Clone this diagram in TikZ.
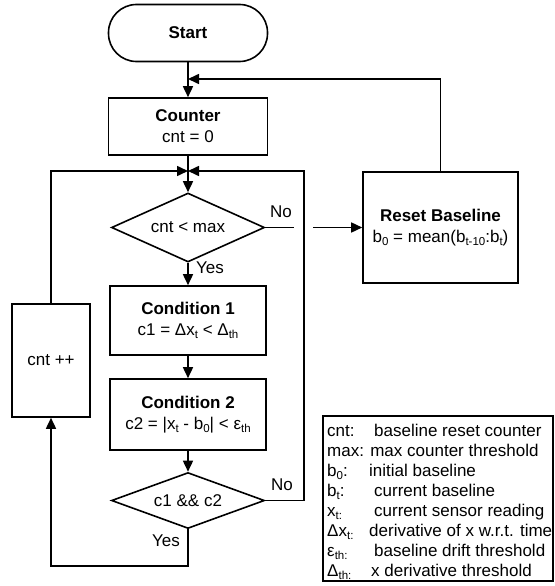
\documentclass[tikz,border=0pt]{standalone}
\usepackage{fontspec}
\setmainfont{Liberation Sans}
\usetikzlibrary{shapes.geometric,arrows.meta}
\newcommand{\lo}[1]{\raisebox{-0.35ex}{\fontsize{11.5}{12}\selectfont #1}}
\tikzset{
  base/.style={draw, line width=1.6pt, font=\fontsize{17}{21}\selectfont, align=center, inner sep=0pt},
  term/.style={base, rounded corners=28pt, minimum width=159pt, minimum height=57pt},
  proc/.style={base, rectangle},
  dec/.style={base, diamond, aspect=2.2},
  conn/.style={line width=1.6pt},
  arr/.style={conn, -{Triangle[length=11pt,width=10pt]}},
  lbl/.style={font=\fontsize{17}{20}\selectfont, inner sep=0pt},
  leg/.style={font=\fontsize{17}{20}\selectfont, inner sep=0pt, anchor=base west},
}
\begin{document}
\begin{tikzpicture}[x=1pt,y=-1pt]
\useasboundingbox (0,0) rectangle (554,586);
\fill[white] (0,0) rectangle (554,586);
% nodes
\node[term] (start) at (188,33) {\textbf{Start}};
\node[proc, minimum width=159pt, minimum height=57pt] (counter) at (188,126.5) {\textbf{Counter}\\cnt = 0};
\node[dec, minimum width=153pt, minimum height=69pt] (d1) at (188,227.5) {cnt {<} max};
\node[proc, minimum width=156pt, minimum height=69pt] (c1) at (188,320.5) {\textbf{Condition 1}\\c1 = Δx\lo{t} < Δ\lo{th}};
\node[proc, minimum width=156pt, minimum height=71pt] (c2) at (188,414.5) {\textbf{Condition 2}\\c2 = |x\lo{t} - b\lo{0}| < ε\lo{th}};
\node[dec, minimum width=153pt, minimum height=56pt] (d2) at (188,500.5) {c1 \&\& c2};
\node[proc, minimum width=155pt, minimum height=111pt] (reset) at (440.5,227.5) {\textbf{Reset Baseline}\\b\lo{0} = mean(b\lo{t-10}:b\lo{t})};
\node[proc, minimum width=78pt, minimum height=113pt] (inc) at (51,360.5) {cnt ++};
% junctions and corners
\coordinate (j1) at (188,79);
\coordinate (j2) at (188,171);
\coordinate (hopL) at (294,227.5);
\coordinate (hopR) at (313,227.5);
\coordinate (rloop) at (304,500.5);
\coordinate (bot) at (188,566);
% connectors
\draw[arr] (start) -- (counter);
\draw[arr] (counter) -- (d1);
\draw[arr] (d1) -- (c1);
\draw[arr] (c1) -- (c2);
\draw[arr] (c2) -- (d2);
\draw[arr] (reset.north) |- (j1);
\draw[arr] (inc.north) |- (j2);
\draw[arr] (d2.east) -- (rloop) |- (j2);
\draw[conn] (d1.east) -- (hopL);
\draw[arr] (hopR) -- (reset.west);
\draw[arr] (d2.south) -- (bot) -| (inc.south);
% labels
\node[lbl] (no1) at (281,212) {No};
\node[lbl] (yes1) at (210,268) {Yes};
\node[lbl] (no2) at (282,485) {No};
\node[lbl] (yes2) at (166,541) {Yes};
% legend
\node[draw, line width=1.2pt, minimum width=230pt, minimum height=165pt, inner sep=0pt] (legend) at (438,498.5) {};
\node[leg] (l1a) at (327,436) {cnt:};
\node[leg] (l1b) at (374,436) {baseline reset counter};
\node[leg] (l2a) at (327,456) {max: max counter threshold};
\node[leg] (l3a) at (327,476) {b\lo{0}:};
\node[leg] (l3b) at (369,476) {initial baseline};
\node[leg] (l4a) at (327,496) {b\lo{t}:};
\node[leg] (l4b) at (374,496) {current baseline};
\node[leg] (l5a) at (327,516) {x\lo{t:}};
\node[leg] (l5b) at (374,516) {current sensor reading};
\node[leg] (l6a) at (327,536) {Δx\lo{t:}};
\node[leg] (l6b) at (369,536) {derivative of x w.r.t. time};
\node[leg] (l7a) at (327,556) {ε\lo{th:}};
\node[leg] (l7b) at (374,556) {baseline drift threshold};
\node[leg] (l8a) at (327,576) {Δ\lo{th:}};
\node[leg] (l8b) at (371,576) {x derivative threshold};
\end{tikzpicture}
\end{document}
